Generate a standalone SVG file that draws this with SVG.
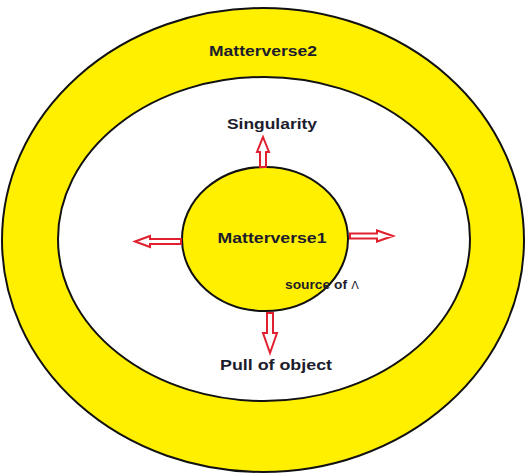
<svg xmlns="http://www.w3.org/2000/svg" width="525" height="474" viewBox="0 0 525 474">
<style>
.ring{stroke:#111;stroke-width:2}
.y{fill:#fff000}
.w{fill:#fff}
.lbl{font-family:"Liberation Sans",Arial,sans-serif;font-weight:bold;fill:#1c1c2c;text-anchor:middle}
.arr{fill:#fff;stroke:#e0202e;stroke-width:2;stroke-linejoin:miter}
</style>
<rect width="525" height="474" fill="#fff"/>
<g id="matterverse2">
<ellipse class="ring y" cx="263" cy="240" rx="261" ry="232"/>
<text class="lbl" x="263" y="56" font-size="15" textLength="108" lengthAdjust="spacingAndGlyphs">Matterverse2</text>
</g>
<g id="singularity">
<ellipse class="ring w" cx="264" cy="239" rx="206" ry="162"/>
<text class="lbl" x="272" y="129" font-size="15" textLength="90" lengthAdjust="spacingAndGlyphs">Singularity</text>
<text class="lbl" x="276" y="370" font-size="15" textLength="112" lengthAdjust="spacingAndGlyphs">Pull of object</text>
</g>
<g id="matterverse1">
<ellipse class="ring y" cx="265" cy="239" rx="83" ry="72"/>
<text class="lbl" x="272" y="243" font-size="15" textLength="109" lengthAdjust="spacingAndGlyphs">Matterverse1</text>
</g>
<g id="source">
<text class="lbl" x="316" y="289" font-size="12" textLength="62" lengthAdjust="spacingAndGlyphs">source of</text>
<text x="355" y="289" font-family="'DejaVu Sans',sans-serif" font-size="11" fill="#1c1c2c" text-anchor="middle">Λ</text>
</g>
<g id="connectors">
<polygon class="arr" points="263,137 269,152 266,152 266,167 260,167 260,152 257,152"/>
<polygon class="arr" points="135,241.5 150,236 150,239 181,239 181,244 150,244 150,247"/>
<polygon class="arr" points="393,236 377,230.5 377,233.5 350,233.5 350,238.5 377,238.5 377,241.5"/>
<polygon class="arr" points="270,353 263,333 267,333 267,313 273,313 273,333 277,333"/>
</g>
</svg>
